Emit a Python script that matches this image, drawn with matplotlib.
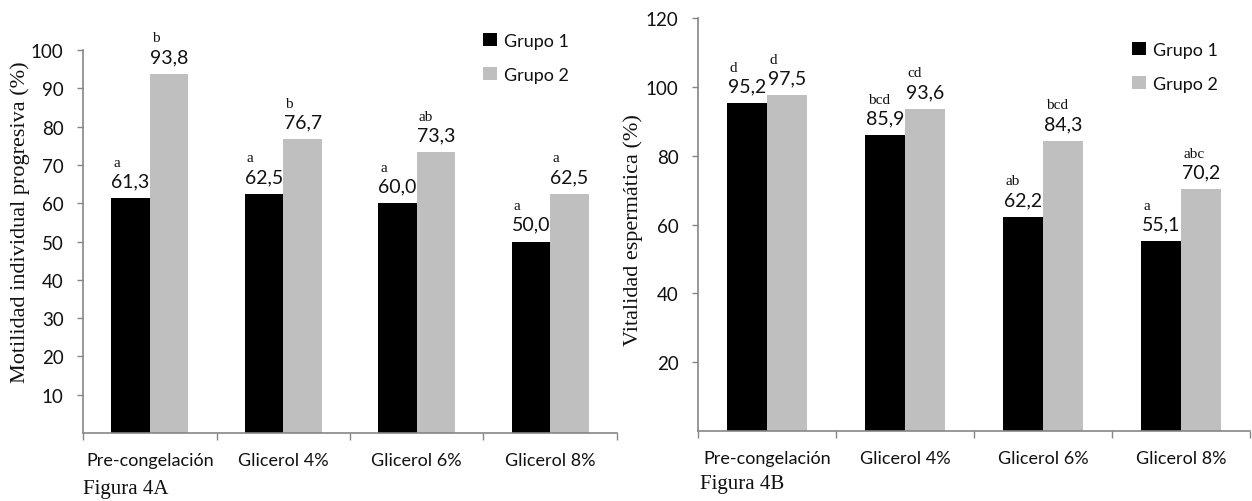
import matplotlib
matplotlib.use("Agg")
import matplotlib.pyplot as plt
import numpy as np
from matplotlib.patches import Patch

categories = ["Pre-congelación", "Glicerol 4%", "Glicerol 6%", "Glicerol 8%"]
groups = ["Grupo 1", "Grupo 2"]

motility_g1 = [61.3, 62.5, 60.0, 50.0]
motility_g2 = [93.8, 76.7, 73.3, 62.5]
motility_sig_g1 = ["a", "a", "a", "a"]
motility_sig_g2 = ["b", "b", "ab", "a"]

vitality_g1 = [95.2, 85.9, 62.2, 55.1]
vitality_g2 = [97.5, 93.6, 84.3, 70.2]
vitality_sig_g1 = ["d", "bcd", "ab", "a"]
vitality_sig_g2 = ["d", "cd", "bcd", "abc"]

SANS = ["Lato", "DejaVu Sans"]
SERIF = ["Liberation Serif", "DejaVu Serif"]
AXIS_GREY = "#868686"
TEXT = "#111111"
COLORS = ["#000000", "#bfbfbf"]

fig = plt.figure(figsize=(12.52, 5.02), dpi=100)


def fmt(v):
    return f"{v:.1f}".replace(".", ",")


def draw_panel(ax, g1, g2, sig1, sig2, ymax, yticks, legend_anchor):
    x = np.arange(len(categories))
    width = 0.29
    for vals, sig, off, color in ((g1, sig1, -width / 2, COLORS[0]), (g2, sig2, width / 2, COLORS[1])):
        ax.bar(x + off, vals, width, color=color, edgecolor="none")
        for xi, v, s in zip(x + off, vals, sig):
            ax.annotate(fmt(v), (xi, v), xytext=(0, 8.5), textcoords="offset points",
                        ha="center", va="baseline", fontsize=14, family=SANS, color=TEXT)
            ax.annotate(s, (xi, v), xytext=(-12.5, 23.5), textcoords="offset points",
                        ha="left", va="baseline", fontsize=11, family=SERIF, color=TEXT)

    ax.set_xlim(-0.5, len(categories) - 0.5)
    ax.set_ylim(0, ymax)
    ax.set_yticks(yticks)
    ax.set_yticklabels([str(t) for t in yticks], family=SANS, fontsize=13.5, color=TEXT)
    ax.set_xticks(x)
    ax.set_xticklabels(categories, family=SANS, fontsize=13, color=TEXT)
    ax.set_xticks(np.arange(len(categories) + 1) - 0.5, minor=True)
    ax.tick_params(axis="x", which="major", length=0, pad=14)
    ax.tick_params(axis="x", which="minor", length=5, color=AXIS_GREY, width=1)
    ax.tick_params(axis="y", length=4, color=AXIS_GREY, width=1, pad=10)

    for side in ("top", "right"):
        ax.spines[side].set_visible(False)
    for side in ("left", "bottom"):
        ax.spines[side].set_color(AXIS_GREY)
        ax.spines[side].set_linewidth(1.2)

    handles = [Patch(facecolor=c, edgecolor="none") for c in COLORS]
    leg = ax.legend(handles, groups, loc="upper left", bbox_to_anchor=legend_anchor,
                    bbox_transform=fig.transFigure, frameon=False, handlelength=0.75,
                    handleheight=0.75, handletextpad=0.4, labelspacing=1.0,
                    prop={"family": SANS, "size": 13}, borderaxespad=0, borderpad=0)
    for t in leg.get_texts():
        t.set_color(TEXT)


ax_a = fig.add_axes([0.0663, 0.1355, 0.4265, 0.7625])
draw_panel(ax_a, motility_g1, motility_g2, motility_sig_g1, motility_sig_g2,
           100, list(range(10, 101, 10)), (483 / 1252, 1 - 34 / 502))

ax_b = fig.add_axes([0.5575, 0.1394, 0.441, 0.8227])
draw_panel(ax_b, vitality_g1, vitality_g2, vitality_sig_g1, vitality_sig_g2,
           120, list(range(20, 121, 20)), (1132 / 1252, 1 - 43 / 502))

fig.text(20 / 1252, 1 - 222 / 502, "Motilidad individual progresiva (%)", rotation=90,
         ha="center", va="center", family=SERIF, fontsize=16, color=TEXT)
fig.text(633 / 1252, 1 - 230 / 502, "Vitalidad espermática (%)", rotation=90,
         ha="center", va="center", family=SERIF, fontsize=16, color=TEXT)
fig.text(83 / 1252, 1 - 490 / 502, "Figura 4A", ha="left", va="center",
         family=SERIF, fontsize=15, color=TEXT)
fig.text(700 / 1252, 1 - 485 / 502, "Figura 4B", ha="left", va="center",
         family=SERIF, fontsize=15, color=TEXT)

fig.savefig("out.png", dpi=100)
